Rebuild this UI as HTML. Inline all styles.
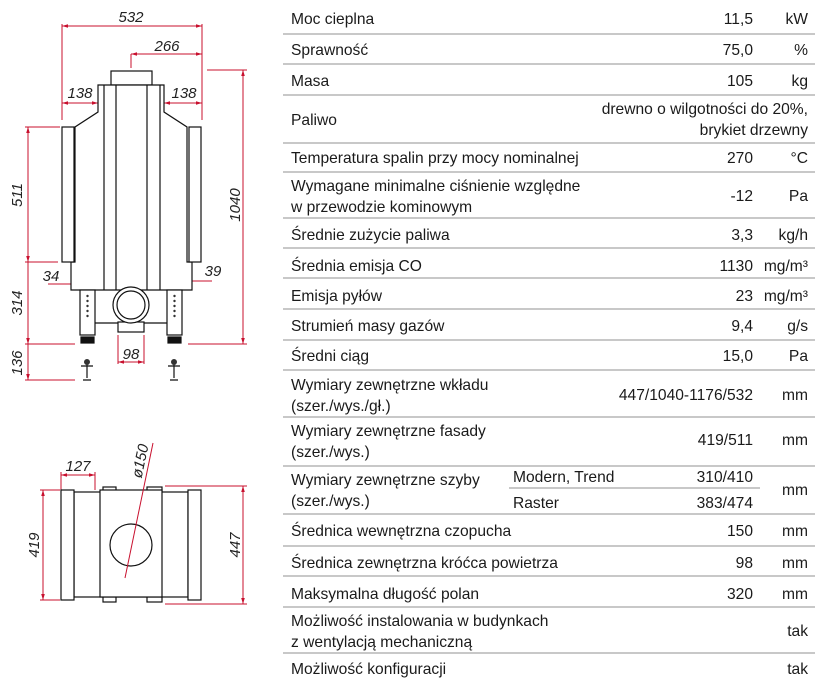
<!DOCTYPE html>
<html><head><meta charset="utf-8"><style>
html,body{margin:0;padding:0;background:#fff;}
svg{display:block;}
.t{font-family:"Liberation Sans",sans-serif;font-size:15.6px;fill:#1a1a1a;}
.r{text-anchor:end;}
.d{font-family:"Liberation Sans",sans-serif;font-size:15px;fill:#222;font-style:italic;}
</style></head><body>
<svg width="828" height="691" viewBox="0 0 828 691" xmlns="http://www.w3.org/2000/svg">
<defs>
<marker id="a" viewBox="0 0 10 10" refX="10" refY="5" markerWidth="6" markerHeight="6" orient="auto-start-reverse"><path d="M0,2 L10,5 L0,8 z" fill="#c8102e"/></marker>
</defs>
<!-- FRONT VIEW -->
<g stroke="#c8102e" stroke-width="1" fill="none">
<line x1="62" y1="26" x2="202" y2="26" marker-start="url(#a)" marker-end="url(#a)"/>
<line x1="131" y1="54" x2="202" y2="54" marker-start="url(#a)" marker-end="url(#a)"/>
<line x1="62" y1="24" x2="62" y2="120"/><line x1="202" y1="24" x2="202" y2="120"/>
<line x1="131" y1="54" x2="131" y2="68"/>
<line x1="62" y1="103" x2="98" y2="103" marker-start="url(#a)" marker-end="url(#a)"/>
<line x1="164" y1="103" x2="202" y2="103" marker-start="url(#a)" marker-end="url(#a)"/>
<line x1="243" y1="70" x2="243" y2="344" marker-start="url(#a)" marker-end="url(#a)"/>
<line x1="207" y1="70" x2="247" y2="70"/>
<line x1="28" y1="127" x2="28" y2="262" marker-start="url(#a)" marker-end="url(#a)"/>
<line x1="28" y1="262" x2="28" y2="344" marker-end="url(#a)"/>
<line x1="28" y1="344" x2="28" y2="380" marker-end="url(#a)"/>
<line x1="25" y1="127" x2="60" y2="127"/>
<line x1="25" y1="262" x2="58" y2="262"/>
<line x1="25" y1="344" x2="75" y2="344"/>
<line x1="188" y1="344" x2="247" y2="344"/>
<line x1="25" y1="380" x2="75" y2="380"/>
<line x1="48" y1="284" x2="80" y2="284" marker-end="url(#a)"/>
<line x1="178" y1="281" x2="212" y2="281" marker-start="url(#a)"/>
<line x1="118" y1="335" x2="118" y2="364"/><line x1="144" y1="335" x2="144" y2="364"/>
<line x1="118" y1="362" x2="144" y2="362" marker-start="url(#a)" marker-end="url(#a)"/>
</g>
<g class="d">
<text x="131" y="22" text-anchor="middle">532</text>
<text x="167" y="51" text-anchor="middle">266</text>
<text x="80" y="98" text-anchor="middle">138</text>
<text x="184" y="98" text-anchor="middle">138</text>
<text x="51" y="281" text-anchor="middle">34</text>
<text x="213" y="276" text-anchor="middle">39</text>
<text x="131" y="359" text-anchor="middle">98</text>
<text transform="translate(240,205) rotate(-90)" text-anchor="middle">1040</text>
<text transform="translate(22,195) rotate(-90)" text-anchor="middle">511</text>
<text transform="translate(22,303) rotate(-90)" text-anchor="middle">314</text>
<text transform="translate(22,363) rotate(-90)" text-anchor="middle">136</text>
</g>
<g stroke="#111" stroke-width="1.2" fill="#fff">
<rect x="111" y="71" width="41" height="14"/>
<path d="M98,85 L164,85 L164,112 L187,127 L187,262 L192,262 L192,290 L71,290 L71,262 L75,262 L75,127 L98,112 Z"/>
<rect x="62" y="127" width="12" height="135"/>
<rect x="189" y="127" width="12" height="135"/>
<line x1="104" y1="85" x2="104" y2="290"/><line x1="116" y1="85" x2="116" y2="290"/>
<line x1="147" y1="85" x2="147" y2="290"/><line x1="160" y1="85" x2="160" y2="290"/>
<line x1="95" y1="323" x2="167" y2="323"/>
<rect x="80" y="290" width="15" height="45"/>
<rect x="167" y="290" width="15" height="45"/>
<rect x="118" y="322" width="26" height="10"/>
<circle cx="131" cy="305" r="18"/>
<circle cx="131" cy="305" r="14"/>
<rect x="81" y="337" width="13" height="6" fill="#111"/>
<rect x="168" y="337" width="13" height="6" fill="#111"/>
<path d="M87,362 L87,378 M81,366 L93,366 M83,380 L91,380" />
<path d="M174,362 L174,378 M168,366 L180,366 M170,380 L178,380" />
</g>
<g fill="#333"><circle cx="87.5" cy="296" r="1.2"/><circle cx="87.5" cy="301" r="1.2"/><circle cx="87.5" cy="306" r="1.2"/><circle cx="87.5" cy="311" r="1.2"/><circle cx="87.5" cy="316" r="1.2"/>
<circle cx="174.5" cy="296" r="1.2"/><circle cx="174.5" cy="301" r="1.2"/><circle cx="174.5" cy="306" r="1.2"/><circle cx="174.5" cy="311" r="1.2"/><circle cx="174.5" cy="316" r="1.2"/>
<circle cx="87" cy="362" r="3"/><circle cx="174" cy="362" r="3"/></g>
<!-- TOP VIEW -->
<g stroke="#c8102e" stroke-width="1" fill="none">
<line x1="61" y1="475" x2="95" y2="475" marker-start="url(#a)" marker-end="url(#a)"/>
<line x1="61" y1="472" x2="61" y2="490"/><line x1="95" y1="472" x2="95" y2="490"/>
<line x1="43" y1="490" x2="43" y2="600" marker-start="url(#a)" marker-end="url(#a)"/>
<line x1="40" y1="490" x2="60" y2="490"/><line x1="40" y1="600" x2="60" y2="600"/>
<line x1="243" y1="486" x2="243" y2="604" marker-start="url(#a)" marker-end="url(#a)"/>
<line x1="165" y1="486" x2="247" y2="486"/><line x1="165" y1="604" x2="247" y2="604"/>
</g>
<g class="d">
<text x="78" y="471" text-anchor="middle">127</text>
<text transform="translate(39,545) rotate(-90)" text-anchor="middle">419</text>
<text transform="translate(240,545) rotate(-90)" text-anchor="middle">447</text>
<text transform="translate(145,462) rotate(-78)" text-anchor="middle">ø150</text>
</g>
<g stroke="#111" stroke-width="1.2" fill="#fff">
<rect x="103" y="487" width="13" height="6"/><rect x="147" y="487" width="15" height="6"/>
<rect x="103" y="596" width="13" height="6"/><rect x="147" y="596" width="15" height="6"/>
<rect x="95" y="500" width="6" height="10"/><rect x="95" y="540" width="6" height="10"/><rect x="95" y="582" width="6" height="10"/>
<rect x="161" y="500" width="6" height="10"/><rect x="161" y="540" width="6" height="10"/><rect x="161" y="582" width="6" height="10"/>
<rect x="74" y="492" width="114" height="105"/>
<rect x="100" y="490" width="62" height="107"/>
<rect x="61" y="490" width="13" height="110"/>
<rect x="188" y="490" width="13" height="110"/>
<circle cx="131" cy="545" r="21"/>
</g>
<line x1="153" y1="443" x2="125" y2="578" stroke="#c8102e" stroke-width="1"/>
<!-- TABLE -->
<g stroke="#b5b5b5" stroke-width="1.5">
<line x1="283" y1="34" x2="815" y2="34"/><line x1="283" y1="64" x2="815" y2="64"/>
<line x1="283" y1="95" x2="815" y2="95"/><line x1="283" y1="143" x2="815" y2="143"/>
<line x1="283" y1="172" x2="815" y2="172"/><line x1="283" y1="218" x2="815" y2="218"/>
<line x1="283" y1="248" x2="815" y2="248"/><line x1="283" y1="278" x2="815" y2="278"/>
<line x1="283" y1="309" x2="815" y2="309"/><line x1="283" y1="340" x2="815" y2="340"/>
<line x1="283" y1="370" x2="815" y2="370"/><line x1="283" y1="417" x2="815" y2="417"/>
<line x1="283" y1="466" x2="815" y2="466"/><line x1="509" y1="488" x2="760" y2="488"/>
<line x1="283" y1="514" x2="815" y2="514"/><line x1="283" y1="546" x2="815" y2="546"/>
<line x1="283" y1="576" x2="815" y2="576"/><line x1="283" y1="607" x2="815" y2="607"/>
<line x1="283" y1="653" x2="815" y2="653"/>
</g>
<g class="t">
<text x="291" y="24">Moc cieplna</text><text class="r" x="753" y="24">11,5</text><text class="r" x="808" y="24">kW</text>
<text x="291" y="55">Sprawność</text><text class="r" x="753" y="55">75,0</text><text class="r" x="808" y="55">%</text>
<text x="291" y="86">Masa</text><text class="r" x="753" y="86">105</text><text class="r" x="808" y="86">kg</text>
<text x="291" y="125">Paliwo</text><text class="r" x="808" y="114">drewno o wilgotności do 20%,</text><text class="r" x="808" y="135">brykiet drzewny</text>
<text x="291" y="163">Temperatura spalin przy mocy nominalnej</text><text class="r" x="753" y="163">270</text><text class="r" x="808" y="163">°C</text>
<text x="291" y="191">Wymagane minimalne ciśnienie względne</text><text x="291" y="212"> w przewodzie kominowym</text><text class="r" x="753" y="201">-12</text><text class="r" x="808" y="201">Pa</text>
<text x="291" y="240">Średnie zużycie paliwa</text><text class="r" x="753" y="240">3,3</text><text class="r" x="808" y="240">kg/h</text>
<text x="291" y="271">Średnia emisja CO</text><text class="r" x="753" y="271">1130</text><text class="r" x="808" y="271">mg/m³</text>
<text x="291" y="301">Emisja pyłów</text><text class="r" x="753" y="301">23</text><text class="r" x="808" y="301">mg/m³</text>
<text x="291" y="331">Strumień masy gazów</text><text class="r" x="753" y="331">9,4</text><text class="r" x="808" y="331">g/s</text>
<text x="291" y="361">Średni ciąg</text><text class="r" x="753" y="361">15,0</text><text class="r" x="808" y="361">Pa</text>
<text x="291" y="390">Wymiary zewnętrzne wkładu</text><text x="291" y="411">(szer./wys./gł.)</text><text class="r" x="753" y="400">447/1040-1176/532</text><text class="r" x="808" y="400">mm</text>
<text x="291" y="436">Wymiary zewnętrzne fasady</text><text x="291" y="457">(szer./wys.)</text><text class="r" x="753" y="445">419/511</text><text class="r" x="808" y="445">mm</text>
<text x="291" y="485">Wymiary zewnętrzne szyby</text><text x="291" y="506">(szer./wys.)</text>
<text x="513" y="482">Modern, Trend</text><text class="r" x="753" y="482">310/410</text>
<text x="513" y="508">Raster</text><text class="r" x="753" y="508">383/474</text><text class="r" x="808" y="495">mm</text>
<text x="291" y="536">Średnica wewnętrzna czopucha</text><text class="r" x="753" y="536">150</text><text class="r" x="808" y="536">mm</text>
<text x="291" y="568">Średnica zewnętrzna króćca powietrza</text><text class="r" x="753" y="568">98</text><text class="r" x="808" y="568">mm</text>
<text x="291" y="599">Maksymalna długość polan</text><text class="r" x="753" y="599">320</text><text class="r" x="808" y="599">mm</text>
<text x="291" y="626">Możliwość instalowania w budynkach</text><text x="291" y="647">z wentylacją mechaniczną</text><text class="r" x="808" y="636">tak</text>
<text x="291" y="674">Możliwość konfiguracji</text><text class="r" x="808" y="674">tak</text>
</g>
</svg>
</body></html>
